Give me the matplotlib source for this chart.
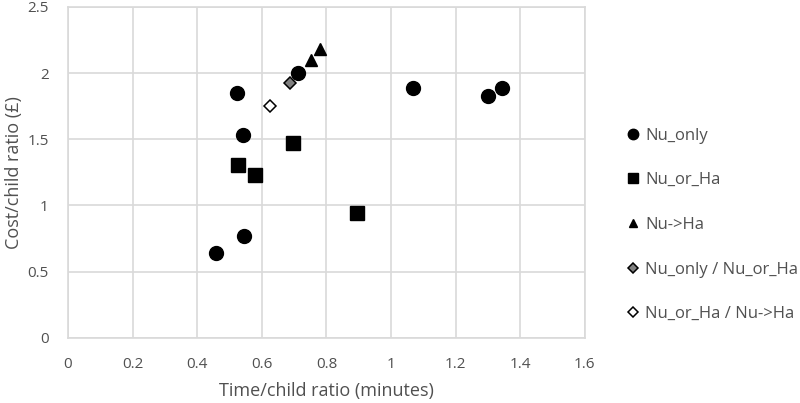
import matplotlib.pyplot as plt

# values
nu_only_x = [0.457, 0.522, 0.542, 0.545, 0.711, 1.068, 1.300, 1.344]
nu_only_y = [0.642, 1.846, 1.531, 0.768, 2.001, 1.884, 1.826, 1.888]

nu_or_ha_x = [0.527, 0.579, 0.697, 0.895]
nu_or_ha_y = [1.304, 1.229, 1.468, 0.940]

nu_to_ha_x = [0.751, 0.780]
nu_to_ha_y = [2.10, 2.18]

only_or_x = [0.687]
only_or_y = [1.921]

or_to_x = [0.625]
or_to_y = [1.750]

plt.rcParams['font.family'] = ['Open Sans', 'DejaVu Sans']
grid_col = '#d9d9d9'
text_col = '#505050'

fig = plt.figure(figsize=(8, 4.03), dpi=100)
ax = fig.add_axes([0.085, 0.162, 0.646, 0.821])

ax.plot(nu_only_x, nu_only_y, 'o', color='black', markersize=10, label='Nu_only', zorder=3)
ax.plot(nu_or_ha_x, nu_or_ha_y, 's', color='black', markersize=9.4, label='Nu_or_Ha', zorder=3)
ax.plot(nu_to_ha_x, nu_to_ha_y, '^', color='black', markersize=8.6, label='Nu->Ha', zorder=3)
ax.plot(only_or_x, only_or_y, 'D', markerfacecolor='#808080', markeredgecolor='black',
        markeredgewidth=1.1, markersize=6.6, label='Nu_only / Nu_or_Ha', zorder=3)
ax.plot(or_to_x, or_to_y, 'D', markerfacecolor='white', markeredgecolor='black',
        markeredgewidth=1.1, markersize=6.6, label='Nu_or_Ha / Nu->Ha', zorder=3)

ax.set_xlim(0, 1.6)
ax.set_ylim(0, 2.5)
ax.set_xticks([0, 0.2, 0.4, 0.6, 0.8, 1, 1.2, 1.4, 1.6])
ax.set_xticklabels(['0', '0.2', '0.4', '0.6', '0.8', '1', '1.2', '1.4', '1.6'])
ax.set_yticks([0, 0.5, 1, 1.5, 2, 2.5])
ax.set_yticklabels(['0', '0.5', '1', '1.5', '2', '2.5'])
ax.grid(True, color=grid_col, linewidth=1.2)
ax.set_axisbelow(True)
for s in ax.spines.values():
    s.set_color(grid_col)
    s.set_linewidth(1.2)
ax.tick_params(length=0, labelsize=11, colors=text_col)
ax.tick_params(axis='y', pad=14)
ax.tick_params(axis='x', pad=14)

ax.set_xlabel('Time/child ratio (minutes)', fontsize=13, color=text_col, labelpad=7)
ax.set_ylabel('Cost/child ratio (£)', fontsize=13, color=text_col, labelpad=3)

leg = ax.legend(loc='upper left', bbox_to_anchor=(0.775, 0.70), bbox_transform=fig.transFigure,
                frameon=False, fontsize=12, labelspacing=1.72, handlelength=0.7,
                handletextpad=0.4, markerscale=0.75, borderaxespad=0)
for t in leg.get_texts():
    t.set_color(text_col)

fig.savefig('out.png', dpi=100)
